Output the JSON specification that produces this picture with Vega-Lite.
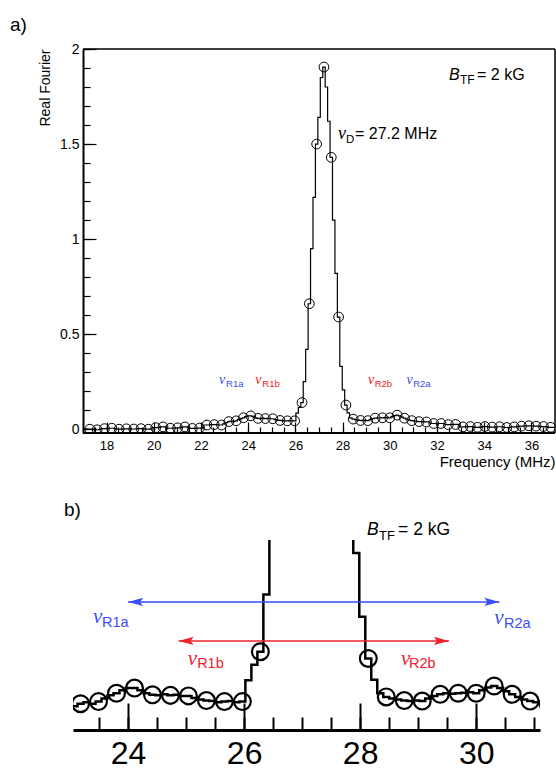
{
  "$schema": "https://vega.github.io/schema/vega-lite/v6.json",
  "autosize": {"type": "pad"},
  "padding": {"left": 10, "top": 15, "right": 0, "bottom": 0},
  "bounds": "flush",
  "spacing": 107,
  "config": {
    "view": {"stroke": null},
    "font": "Liberation Sans",
    "axis": {"grid": false, "domainColor": "black", "tickColor": "black", "labelColor": "black", "titleColor": "black", "labelFont": "Liberation Sans", "titleFont": "Liberation Sans", "titleFontWeight": "normal"},
    "text": {"font": "Liberation Sans"}
  },
  "datasets": {
    "hist": [
      {"f": 17.0, "v": 0.002, "pt": 0},
      {"f": 17.29, "v": 0.000, "pt": 1},
      {"f": 17.60, "v": -0.003, "pt": 1},
      {"f": 17.91, "v": 0.003, "pt": 1},
      {"f": 18.22, "v": 0.005, "pt": 1},
      {"f": 18.53, "v": 0.000, "pt": 1},
      {"f": 18.84, "v": 0.002, "pt": 1},
      {"f": 19.15, "v": 0.001, "pt": 1},
      {"f": 19.46, "v": 0.003, "pt": 1},
      {"f": 19.77, "v": 0.000, "pt": 1},
      {"f": 20.08, "v": 0.008, "pt": 1},
      {"f": 20.39, "v": 0.012, "pt": 1},
      {"f": 20.70, "v": 0.005, "pt": 1},
      {"f": 21.01, "v": 0.007, "pt": 1},
      {"f": 21.32, "v": 0.012, "pt": 1},
      {"f": 21.63, "v": 0.004, "pt": 1},
      {"f": 21.94, "v": 0.006, "pt": 1},
      {"f": 22.25, "v": 0.022, "pt": 1},
      {"f": 22.56, "v": 0.024, "pt": 1},
      {"f": 22.87, "v": 0.022, "pt": 1},
      {"f": 22.973, "v": 0.028, "pt": 0},
      {"f": 23.077, "v": 0.035, "pt": 0},
      {"f": 23.18, "v": 0.040, "pt": 1},
      {"f": 23.283, "v": 0.043, "pt": 0},
      {"f": 23.387, "v": 0.040, "pt": 0},
      {"f": 23.49, "v": 0.044, "pt": 1},
      {"f": 23.593, "v": 0.050, "pt": 0},
      {"f": 23.697, "v": 0.056, "pt": 0},
      {"f": 23.80, "v": 0.060, "pt": 1},
      {"f": 23.903, "v": 0.066, "pt": 0},
      {"f": 24.007, "v": 0.070, "pt": 0},
      {"f": 24.11, "v": 0.070, "pt": 1},
      {"f": 24.213, "v": 0.066, "pt": 0},
      {"f": 24.317, "v": 0.060, "pt": 0},
      {"f": 24.42, "v": 0.057, "pt": 1},
      {"f": 24.523, "v": 0.056, "pt": 0},
      {"f": 24.627, "v": 0.058, "pt": 0},
      {"f": 24.73, "v": 0.056, "pt": 1},
      {"f": 24.833, "v": 0.057, "pt": 0},
      {"f": 24.937, "v": 0.055, "pt": 0},
      {"f": 25.04, "v": 0.055, "pt": 1},
      {"f": 25.143, "v": 0.051, "pt": 0},
      {"f": 25.247, "v": 0.048, "pt": 0},
      {"f": 25.35, "v": 0.046, "pt": 1},
      {"f": 25.453, "v": 0.045, "pt": 0},
      {"f": 25.557, "v": 0.043, "pt": 0},
      {"f": 25.66, "v": 0.044, "pt": 1},
      {"f": 25.763, "v": 0.045, "pt": 0},
      {"f": 25.867, "v": 0.043, "pt": 0},
      {"f": 25.97, "v": 0.044, "pt": 1},
      {"f": 26.073, "v": 0.085, "pt": 0},
      {"f": 26.177, "v": 0.115, "pt": 0},
      {"f": 26.28, "v": 0.14, "pt": 1},
      {"f": 26.383, "v": 0.25, "pt": 0},
      {"f": 26.487, "v": 0.42, "pt": 0},
      {"f": 26.59, "v": 0.66, "pt": 1},
      {"f": 26.693, "v": 0.95, "pt": 0},
      {"f": 26.797, "v": 1.22, "pt": 0},
      {"f": 26.90, "v": 1.50, "pt": 1},
      {"f": 27.003, "v": 1.64, "pt": 0},
      {"f": 27.107, "v": 1.85, "pt": 0},
      {"f": 27.21, "v": 1.905, "pt": 1},
      {"f": 27.313, "v": 1.80, "pt": 0},
      {"f": 27.417, "v": 1.62, "pt": 0},
      {"f": 27.52, "v": 1.43, "pt": 1},
      {"f": 27.623, "v": 1.10, "pt": 0},
      {"f": 27.727, "v": 0.82, "pt": 0},
      {"f": 27.83, "v": 0.59, "pt": 1},
      {"f": 27.933, "v": 0.33, "pt": 0},
      {"f": 28.037, "v": 0.207, "pt": 0},
      {"f": 28.14, "v": 0.127, "pt": 1},
      {"f": 28.243, "v": 0.086, "pt": 0},
      {"f": 28.347, "v": 0.060, "pt": 0},
      {"f": 28.45, "v": 0.053, "pt": 1},
      {"f": 28.553, "v": 0.050, "pt": 0},
      {"f": 28.657, "v": 0.048, "pt": 0},
      {"f": 28.76, "v": 0.046, "pt": 1},
      {"f": 28.863, "v": 0.045, "pt": 0},
      {"f": 28.967, "v": 0.046, "pt": 0},
      {"f": 29.07, "v": 0.045, "pt": 1},
      {"f": 29.173, "v": 0.050, "pt": 0},
      {"f": 29.277, "v": 0.055, "pt": 0},
      {"f": 29.38, "v": 0.058, "pt": 1},
      {"f": 29.483, "v": 0.060, "pt": 0},
      {"f": 29.587, "v": 0.059, "pt": 0},
      {"f": 29.69, "v": 0.060, "pt": 1},
      {"f": 29.793, "v": 0.061, "pt": 0},
      {"f": 29.897, "v": 0.062, "pt": 0},
      {"f": 30.00, "v": 0.060, "pt": 1},
      {"f": 30.103, "v": 0.066, "pt": 0},
      {"f": 30.207, "v": 0.071, "pt": 0},
      {"f": 30.31, "v": 0.074, "pt": 1},
      {"f": 30.413, "v": 0.070, "pt": 0},
      {"f": 30.517, "v": 0.064, "pt": 0},
      {"f": 30.62, "v": 0.058, "pt": 1},
      {"f": 30.723, "v": 0.053, "pt": 0},
      {"f": 30.827, "v": 0.048, "pt": 0},
      {"f": 30.93, "v": 0.045, "pt": 1},
      {"f": 31.033, "v": 0.043, "pt": 0},
      {"f": 31.137, "v": 0.041, "pt": 0},
      {"f": 31.24, "v": 0.040, "pt": 1},
      {"f": 31.55, "v": 0.038, "pt": 1},
      {"f": 31.86, "v": 0.030, "pt": 1},
      {"f": 32.17, "v": 0.030, "pt": 1},
      {"f": 32.48, "v": 0.024, "pt": 1},
      {"f": 32.79, "v": 0.025, "pt": 1},
      {"f": 33.10, "v": 0.012, "pt": 1},
      {"f": 33.41, "v": 0.014, "pt": 1},
      {"f": 33.72, "v": 0.010, "pt": 1},
      {"f": 34.03, "v": 0.014, "pt": 1},
      {"f": 34.34, "v": 0.011, "pt": 1},
      {"f": 34.65, "v": 0.013, "pt": 1},
      {"f": 34.96, "v": 0.009, "pt": 1},
      {"f": 35.27, "v": 0.012, "pt": 1},
      {"f": 35.58, "v": 0.016, "pt": 1},
      {"f": 35.89, "v": 0.018, "pt": 1},
      {"f": 36.20, "v": 0.016, "pt": 1},
      {"f": 36.51, "v": 0.014, "pt": 1},
      {"f": 36.82, "v": 0.010, "pt": 1},
      {"f": 37.0, "v": 0.010, "pt": 0}
    ]
  },
  "vconcat": [
    {
      "width": 482,
      "height": 384,
      "data": {"values": [{}]},
      "resolve": {"axis": {"x": "independent", "y": "independent"}},
      "layer": [
        {
          "data": {"name": "hist"},
          "mark": {"type": "line", "interpolate": "step", "color": "black", "strokeWidth": 1.2, "clip": true},
          "encoding": {
            "x": {"field": "f", "type": "quantitative", "scale": {"domain": [16.576, 37], "nice": false, "zero": false},
              "axis": {"orient": "bottom", "values": [18, 20, 22, 24, 26, 28, 30, 32, 34, 36], "format": "~g", "tickSize": -11, "tickWidth": 1.2, "domain": false, "labelFontSize": 13, "labelPadding": 17, "title": "Frequency (MHz)", "titleAnchor": "end", "titleFontSize": 15, "titlePadding": 2}},
            "y": {"field": "v", "type": "quantitative", "scale": {"domain": [-0.02, 2.0], "nice": false, "zero": false},
              "axis": {"orient": "left", "offset": -10, "values": [0, 0.5, 1, 1.5, 2], "format": "~g", "tickSize": -13, "tickWidth": 1.2, "domainWidth": 2, "labelFontSize": 14, "labelPadding": 17, "title": "Real Fourier", "titleAnchor": "end", "titleFontSize": 14, "titlePadding": 7}}
          }
        },
        {
          "data": {"name": "hist"},
          "transform": [{"filter": "datum.pt == 1"}],
          "mark": {"type": "point", "shape": "circle", "filled": false, "color": "black", "size": 95, "strokeWidth": 1, "opacity": 1, "clip": true},
          "encoding": {
            "x": {"field": "f", "type": "quantitative",
              "axis": {"orient": "bottom", "values": [17, 17.5, 18, 18.5, 19, 19.5, 20, 20.5, 21, 21.5, 22, 22.5, 23, 23.5, 24, 24.5, 25, 25.5, 26, 26.5, 27, 27.5, 28, 28.5, 29, 29.5, 30, 30.5, 31, 31.5, 32, 32.5, 33, 33.5, 34, 34.5, 35, 35.5, 36, 36.5], "tickSize": -6, "tickWidth": 1.2, "labels": false, "domain": false, "title": null}},
            "y": {"field": "v", "type": "quantitative",
              "axis": {"orient": "left", "offset": -10, "values": [0, 0.1, 0.2, 0.3, 0.4, 0.5, 0.6, 0.7, 0.8, 0.9, 1, 1.1, 1.2, 1.3, 1.4, 1.5, 1.6, 1.7, 1.8, 1.9, 2], "tickSize": -7, "tickWidth": 1.2, "labels": false, "domain": false, "title": null}}
          }
        },
        {
          "mark": {"type": "rule", "color": "black", "strokeWidth": 1.5},
          "encoding": {"x": {"datum": 17, "type": "quantitative", "axis": null}, "x2": {"datum": 37}, "y": {"datum": 2.0, "type": "quantitative", "axis": null}}
        },
        {
          "mark": {"type": "rule", "color": "black", "strokeWidth": 1.5},
          "encoding": {"x": {"datum": 37, "type": "quantitative", "axis": null}, "y": {"datum": -0.02, "type": "quantitative", "axis": null}, "y2": {"datum": 2.0}}
        },
        {
          "mark": {"type": "rule", "color": "black", "strokeWidth": 2},
          "encoding": {"x": {"datum": 17, "type": "quantitative", "axis": null}, "x2": {"datum": 37}, "y": {"datum": -0.02, "type": "quantitative", "axis": null}}
        },
        {
          "mark": {"type": "text", "text": "a)", "fontSize": 19, "align": "left", "baseline": "alphabetic", "color": "black"},
          "encoding": {"x": {"datum": 13.907, "type": "quantitative", "axis": null}, "y": {"datum": 2.095, "type": "quantitative", "axis": null}}
        },
        {
          "mark": {"type": "text", "text": "B", "fontSize": 16, "fontStyle": "italic", "align": "left", "baseline": "alphabetic", "color": "black"},
          "encoding": {"x": {"datum": 32.508, "type": "quantitative", "axis": null}, "y": {"datum": 1.837, "type": "quantitative", "axis": null}}
        },
        {
          "mark": {"type": "text", "text": "TF", "fontSize": 12, "align": "left", "baseline": "alphabetic", "color": "black"},
          "encoding": {"x": {"datum": 32.974, "type": "quantitative", "axis": null}, "y": {"datum": 1.816, "type": "quantitative", "axis": null}}
        },
        {
          "mark": {"type": "text", "text": "= 2 kG", "fontSize": 16, "align": "left", "baseline": "alphabetic", "color": "black"},
          "encoding": {"x": {"datum": 33.695, "type": "quantitative", "axis": null}, "y": {"datum": 1.837, "type": "quantitative", "axis": null}}
        },
        {
          "mark": {"type": "text", "text": "ν", "font": "Liberation Serif", "fontStyle": "italic", "fontSize": 18, "align": "left", "baseline": "alphabetic", "color": "black"},
          "encoding": {"x": {"datum": 27.805, "type": "quantitative", "axis": null}, "y": {"datum": 1.526, "type": "quantitative", "axis": null}}
        },
        {
          "mark": {"type": "text", "text": "D", "fontSize": 11.5, "align": "left", "baseline": "alphabetic", "color": "black"},
          "encoding": {"x": {"datum": 28.144, "type": "quantitative", "axis": null}, "y": {"datum": 1.505, "type": "quantitative", "axis": null}}
        },
        {
          "mark": {"type": "text", "text": "= 27.2 MHz", "fontSize": 16, "align": "left", "baseline": "alphabetic", "color": "black"},
          "encoding": {"x": {"datum": 28.525, "type": "quantitative", "axis": null}, "y": {"datum": 1.526, "type": "quantitative", "axis": null}}
        },
        {
          "mark": {"type": "text", "text": "ν", "font": "Liberation Serif", "fontStyle": "italic", "fontSize": 14, "align": "left", "baseline": "alphabetic", "color": "#3a4cf4"},
          "encoding": {"x": {"datum": 22.76, "type": "quantitative", "axis": null}, "y": {"datum": 0.237, "type": "quantitative", "axis": null}}
        },
        {
          "mark": {"type": "text", "text": "R1a", "fontSize": 9.5, "align": "left", "baseline": "alphabetic", "color": "#3a4cf4"},
          "encoding": {"x": {"datum": 23.06, "type": "quantitative", "axis": null}, "y": {"datum": 0.221, "type": "quantitative", "axis": null}}
        },
        {
          "mark": {"type": "text", "text": "ν", "font": "Liberation Serif", "fontStyle": "italic", "fontSize": 14, "align": "left", "baseline": "alphabetic", "color": "#f0202c"},
          "encoding": {"x": {"datum": 24.3, "type": "quantitative", "axis": null}, "y": {"datum": 0.237, "type": "quantitative", "axis": null}}
        },
        {
          "mark": {"type": "text", "text": "R1b", "fontSize": 9.5, "align": "left", "baseline": "alphabetic", "color": "#f0202c"},
          "encoding": {"x": {"datum": 24.6, "type": "quantitative", "axis": null}, "y": {"datum": 0.221, "type": "quantitative", "axis": null}}
        },
        {
          "mark": {"type": "text", "text": "ν", "font": "Liberation Serif", "fontStyle": "italic", "fontSize": 14, "align": "left", "baseline": "alphabetic", "color": "#f0202c"},
          "encoding": {"x": {"datum": 29.076, "type": "quantitative", "axis": null}, "y": {"datum": 0.237, "type": "quantitative", "axis": null}}
        },
        {
          "mark": {"type": "text", "text": "R2b", "fontSize": 9.5, "align": "left", "baseline": "alphabetic", "color": "#f0202c"},
          "encoding": {"x": {"datum": 29.36, "type": "quantitative", "axis": null}, "y": {"datum": 0.221, "type": "quantitative", "axis": null}}
        },
        {
          "mark": {"type": "text", "text": "ν", "font": "Liberation Serif", "fontStyle": "italic", "fontSize": 14, "align": "left", "baseline": "alphabetic", "color": "#3a4cf4"},
          "encoding": {"x": {"datum": 30.71, "type": "quantitative", "axis": null}, "y": {"datum": 0.237, "type": "quantitative", "axis": null}}
        },
        {
          "mark": {"type": "text", "text": "R2a", "fontSize": 9.5, "align": "left", "baseline": "alphabetic", "color": "#3a4cf4"},
          "encoding": {"x": {"datum": 30.99, "type": "quantitative", "axis": null}, "y": {"datum": 0.221, "type": "quantitative", "axis": null}}
        }
      ]
    },
    {
      "width": 467,
      "height": 190,
      "data": {"values": [{}]},
      "resolve": {"axis": {"x": "independent", "y": "independent"}},
      "layer": [
        {
          "data": {"name": "hist"},
          "mark": {"type": "line", "interpolate": "step", "color": "black", "strokeWidth": 2.5, "clip": true},
          "encoding": {
            "x": {"field": "f", "type": "quantitative", "scale": {"domain": [23.05, 31.1], "nice": false, "zero": false},
              "axis": {"orient": "bottom", "values": [24, 26, 28, 30], "format": "~g", "tickSize": -27, "tickWidth": 2, "domainWidth": 3, "labelFontSize": 32, "labelPadding": 35, "title": null}},
            "y": {"field": "v", "type": "quantitative", "scale": {"domain": [-0.0106, 0.3548], "nice": false, "zero": false}, "axis": null}
          }
        },
        {
          "data": {"name": "hist"},
          "transform": [{"filter": "datum.pt == 1"}],
          "mark": {"type": "point", "shape": "circle", "filled": false, "color": "black", "size": 283, "strokeWidth": 2.2, "opacity": 1, "clip": true},
          "encoding": {
            "x": {"field": "f", "type": "quantitative",
              "axis": {"orient": "bottom", "values": [23.5, 24, 24.5, 25, 25.5, 26, 26.5, 27, 27.5, 28, 28.5, 29, 29.5, 30, 30.5, 31], "tickSize": -13, "tickWidth": 2, "labels": false, "domain": false, "title": null}},
            "y": {"field": "v", "type": "quantitative", "axis": null}
          }
        },
        {
          "mark": {"type": "text", "text": "b)", "fontSize": 19, "align": "left", "baseline": "alphabetic", "color": "black"},
          "encoding": {"x": {"datum": 22.895, "type": "quantitative", "axis": null}, "y": {"datum": 0.401, "type": "quantitative", "axis": null}}
        },
        {
          "mark": {"type": "rule", "color": "#3a4cf4", "strokeWidth": 1.6},
          "encoding": {"x": {"datum": 24.0, "type": "quantitative", "axis": null}, "x2": {"datum": 30.4}, "y": {"datum": 0.2356, "type": "quantitative", "axis": null}}
        },
        {
          "mark": {"type": "point", "shape": "M0,0L2,-0.55L1.6,0L2,0.55Z", "filled": true, "size": 225, "color": "#3a4cf4", "opacity": 1, "strokeWidth": 0},
          "encoding": {"x": {"datum": 24.0, "type": "quantitative", "axis": null}, "y": {"datum": 0.2356, "type": "quantitative", "axis": null}}
        },
        {
          "mark": {"type": "point", "shape": "M0,0L-2,-0.55L-1.6,0L-2,0.55Z", "filled": true, "size": 225, "color": "#3a4cf4", "opacity": 1, "strokeWidth": 0},
          "encoding": {"x": {"datum": 30.4, "type": "quantitative", "axis": null}, "y": {"datum": 0.2356, "type": "quantitative", "axis": null}}
        },
        {
          "mark": {"type": "rule", "color": "#f0202c", "strokeWidth": 1.6},
          "encoding": {"x": {"datum": 24.87, "type": "quantitative", "axis": null}, "x2": {"datum": 29.53}, "y": {"datum": 0.1606, "type": "quantitative", "axis": null}}
        },
        {
          "mark": {"type": "point", "shape": "M0,0L2,-0.55L1.6,0L2,0.55Z", "filled": true, "size": 225, "color": "#f0202c", "opacity": 1, "strokeWidth": 0},
          "encoding": {"x": {"datum": 24.87, "type": "quantitative", "axis": null}, "y": {"datum": 0.1606, "type": "quantitative", "axis": null}}
        },
        {
          "mark": {"type": "point", "shape": "M0,0L-2,-0.55L-1.6,0L-2,0.55Z", "filled": true, "size": 225, "color": "#f0202c", "opacity": 1, "strokeWidth": 0},
          "encoding": {"x": {"datum": 29.53, "type": "quantitative", "axis": null}, "y": {"datum": 0.1606, "type": "quantitative", "axis": null}}
        },
        {
          "mark": {"type": "text", "text": "B", "fontSize": 17.5, "fontStyle": "italic", "align": "left", "baseline": "alphabetic", "color": "black"},
          "encoding": {"x": {"datum": 28.119, "type": "quantitative", "axis": null}, "y": {"datum": 0.3644, "type": "quantitative", "axis": null}}
        },
        {
          "mark": {"type": "text", "text": "TF", "fontSize": 13, "align": "left", "baseline": "alphabetic", "color": "black"},
          "encoding": {"x": {"datum": 28.326, "type": "quantitative", "axis": null}, "y": {"datum": 0.3548, "type": "quantitative", "axis": null}}
        },
        {
          "mark": {"type": "text", "text": "= 2 kG", "fontSize": 17.5, "align": "left", "baseline": "alphabetic", "color": "black"},
          "encoding": {"x": {"datum": 28.653, "type": "quantitative", "axis": null}, "y": {"datum": 0.3644, "type": "quantitative", "axis": null}}
        },
        {
          "mark": {"type": "text", "text": "ν", "font": "Liberation Serif", "fontStyle": "italic", "fontSize": 21, "align": "left", "baseline": "alphabetic", "color": "#3a4cf4"},
          "encoding": {"x": {"datum": 23.395, "type": "quantitative", "axis": null}, "y": {"datum": 0.195, "type": "quantitative", "axis": null}}
        },
        {
          "mark": {"type": "text", "text": "R1a", "fontSize": 14.5, "align": "left", "baseline": "alphabetic", "color": "#3a4cf4"},
          "encoding": {"x": {"datum": 23.55, "type": "quantitative", "axis": null}, "y": {"datum": 0.1875, "type": "quantitative", "axis": null}}
        },
        {
          "mark": {"type": "text", "text": "ν", "font": "Liberation Serif", "fontStyle": "italic", "fontSize": 21, "align": "left", "baseline": "alphabetic", "color": "#3a4cf4"},
          "encoding": {"x": {"datum": 30.31, "type": "quantitative", "axis": null}, "y": {"datum": 0.193, "type": "quantitative", "axis": null}}
        },
        {
          "mark": {"type": "text", "text": "R2a", "fontSize": 14.5, "align": "left", "baseline": "alphabetic", "color": "#3a4cf4"},
          "encoding": {"x": {"datum": 30.48, "type": "quantitative", "axis": null}, "y": {"datum": 0.1855, "type": "quantitative", "axis": null}}
        },
        {
          "mark": {"type": "text", "text": "ν", "font": "Liberation Serif", "fontStyle": "italic", "fontSize": 21, "align": "left", "baseline": "alphabetic", "color": "#f0202c"},
          "encoding": {"x": {"datum": 25.03, "type": "quantitative", "axis": null}, "y": {"datum": 0.1144, "type": "quantitative", "axis": null}}
        },
        {
          "mark": {"type": "text", "text": "R1b", "fontSize": 14.5, "align": "left", "baseline": "alphabetic", "color": "#f0202c"},
          "encoding": {"x": {"datum": 25.19, "type": "quantitative", "axis": null}, "y": {"datum": 0.1087, "type": "quantitative", "axis": null}}
        },
        {
          "mark": {"type": "text", "text": "ν", "font": "Liberation Serif", "fontStyle": "italic", "fontSize": 21, "align": "left", "baseline": "alphabetic", "color": "#f0202c"},
          "encoding": {"x": {"datum": 28.705, "type": "quantitative", "axis": null}, "y": {"datum": 0.1144, "type": "quantitative", "axis": null}}
        },
        {
          "mark": {"type": "text", "text": "R2b", "fontSize": 14.5, "align": "left", "baseline": "alphabetic", "color": "#f0202c"},
          "encoding": {"x": {"datum": 28.843, "type": "quantitative", "axis": null}, "y": {"datum": 0.1087, "type": "quantitative", "axis": null}}
        }
      ]
    }
  ]
}
